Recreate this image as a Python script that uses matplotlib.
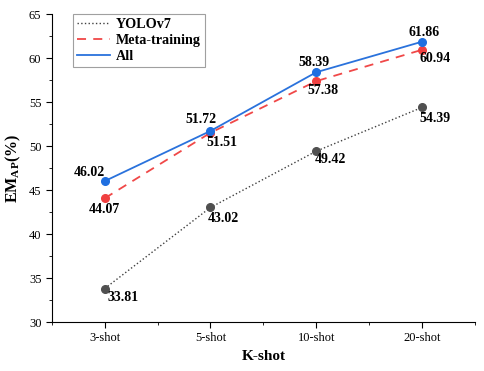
import matplotlib
matplotlib.use("Agg")
import matplotlib.pyplot as plt
from matplotlib.ticker import MultipleLocator

plt.rcParams['font.family'] = ['Liberation Serif', 'DejaVu Serif']
plt.rcParams['mathtext.fontset'] = 'custom'
plt.rcParams['mathtext.rm'] = 'Liberation Serif'
plt.rcParams['mathtext.bf'] = 'Liberation Serif:bold'

categories = ["3-shot", "5-shot", "10-shot", "20-shot"]
yolo = [33.81, 43.02, 49.42, 54.39]
meta = [44.07, 51.51, 57.38, 60.94]
allv = [46.02, 51.72, 58.39, 61.86]

fig = plt.figure(figsize=(4.85, 3.71), dpi=100)
ax = fig.add_axes([0.107, 0.132, 0.872, 0.830])
x = list(range(len(categories)))

ax.plot(x, yolo, linestyle=':', color='#404040', lw=1.0, marker='o', ms=5.5,
        markerfacecolor='#505050', markeredgecolor='#505050', label='YOLOv7')
ax.plot(x, meta, linestyle=(0, (5, 4)), color='#f04848', lw=1.3, marker='o', ms=5.5,
        markerfacecolor='#f04040', markeredgecolor='#f04040', label='Meta-training')
ax.plot(x, allv, linestyle='-', color='#2a72dc', lw=1.3, marker='o', ms=5.5,
        markerfacecolor='#1f6fe0', markeredgecolor='#1f6fe0', label='All')

fs = 10
def ann(xi, yi, dx, dy):
    ax.annotate(f"{yi:.2f}", (xi, yi), xytext=(dx, dy), textcoords='offset points',
                ha='center', va='center', fontsize=fs, fontweight='bold')

# All: above
ann(0, allv[0], -11, 6.5)
ann(1, allv[1], -6.5, 8.5)
ann(2, allv[2], -1.5, 7)
ann(3, allv[3], 1.5, 7)
# Meta: below
ann(0, meta[0], 0, -8)
ann(1, meta[1], 8.5, -7)
ann(2, meta[2], 5, -7)
ann(3, meta[3], 9.5, -6.5)
# YOLO: below-right
ann(0, yolo[0], 13, -6.5)
ann(1, yolo[1], 9.5, -8)
ann(2, yolo[2], 10, -6)
ann(3, yolo[3], 9.5, -8)

ax.set_xlim(-0.5, 3.5)
ax.set_ylim(30, 65)
ax.set_xticks(x)
ax.set_xticklabels(categories)
ax.xaxis.set_minor_locator(MultipleLocator(0.5))
ax.yaxis.set_major_locator(MultipleLocator(5))
ax.yaxis.set_minor_locator(MultipleLocator(2.5))
ax.spines['top'].set_visible(False)
ax.spines['right'].set_visible(False)
ax.tick_params(axis='both', which='major', direction='out', length=4, labelsize=9)
ax.tick_params(axis='both', which='minor', direction='out', length=2.5)
ax.set_xlabel('K-shot', fontsize=11, fontweight='bold')
ax.set_ylabel(r'$\mathbf{EM_{AP}}$(%)', fontsize=11.5, fontweight='bold')

leg = ax.legend(loc='upper left', bbox_to_anchor=(0.05, 1.0), borderaxespad=0,
                prop={'weight': 'bold', 'size': 10.2}, frameon=True, fancybox=False,
                edgecolor='#888888', handlelength=2.3, borderpad=0.3, labelspacing=0.2,
                handletextpad=0.4)
leg.get_frame().set_linewidth(0.8)
for h in leg.get_lines():
    h.set_marker('')

fig.savefig('out.png', dpi=100)
